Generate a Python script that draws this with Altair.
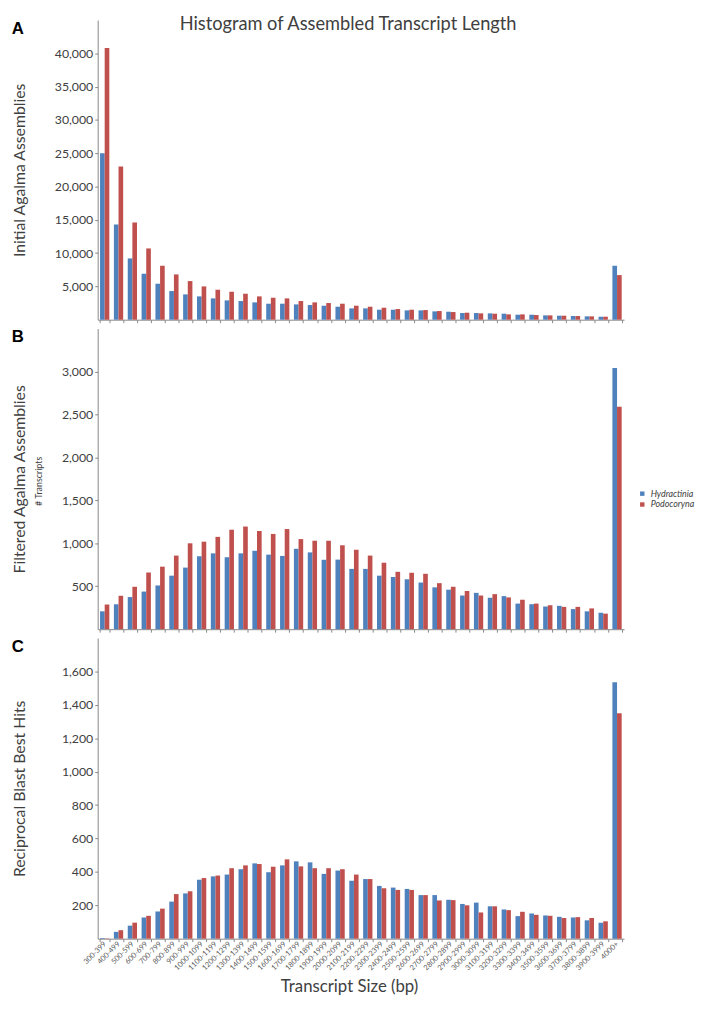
import altair as alt
import pandas as pd

categories = ["300-399", "400-499", "500-599", "600-699", "700-799", "800-899", "900-999",
              "1000-1099", "1100-1199", "1200-1299", "1300-1399", "1400-1499", "1500-1599",
              "1600-1699", "1700-1799", "1800-1899", "1900-1999", "2000-2099", "2100-2199",
              "2200-2299", "2300-2399", "2400-2499", "2500-2599", "2600-2699", "2700-2799",
              "2800-2899", "2900-2999", "3000-3099", "3100-3199", "3200-3299", "3300-3399",
              "3400-3499", "3500-3599", "3600-3699", "3700-3799", "3800-3899", "3900-3999", "4000+"]
series = ["Hydractinia", "Podocoryna"]

initial_hydractinia = [25000, 14300, 9200, 6900, 5400, 4300, 3800, 3500, 3200, 2900, 2800, 2600,
                       2400, 2400, 2300, 2200, 2100, 1950, 1700, 1700, 1500, 1500, 1400, 1400,
                       1250, 1200, 1000, 1000, 950, 900, 750, 750, 650, 600, 550, 500, 450, 8100]
initial_podocoryna = [40800, 23000, 14600, 10700, 8100, 6800, 5800, 5000, 4500, 4200, 3900, 3500,
                      3300, 3200, 2800, 2600, 2500, 2400, 2100, 1950, 1800, 1600, 1500, 1450,
                      1300, 1150, 1050, 950, 900, 800, 800, 700, 650, 600, 550, 500, 450, 6700]

filtered_hydractinia = [208, 290, 374, 438, 509, 623, 717, 849, 883, 838, 883, 913, 868, 853, 936,
                        894, 808, 810, 702, 702, 623, 608, 581, 543, 487, 460, 392, 423, 366, 385,
                        298, 291, 264, 272, 234, 208, 192, 3040]
filtered_podocoryna = [287, 389, 494, 660, 728, 857, 1000, 1019, 1075, 1158, 1195, 1143, 1109, 1166,
                       1049, 1030, 1030, 977, 925, 857, 774, 668, 657, 645, 536, 494, 445, 392, 408,
                       370, 343, 298, 279, 260, 260, 242, 181, 2590]

rbbh_hydractinia = [4, 41, 78, 127, 163, 222, 271, 353, 373, 384, 416, 451, 398, 439, 463, 457, 388,
                    408, 347, 357, 316, 306, 298, 261, 261, 233, 208, 216, 194, 175, 135, 151, 139,
                    131, 127, 110, 96, 1535]
rbbh_podocoryna = [2, 51, 96, 137, 180, 267, 284, 363, 378, 422, 439, 447, 431, 475, 433, 422, 422,
                   416, 384, 357, 302, 292, 292, 261, 229, 231, 200, 157, 194, 171, 161, 143, 137,
                   124, 129, 124, 104, 1350]

ticks_a = [5000, 10000, 15000, 20000, 25000, 30000, 35000, 40000]
ticks_b = [500, 1000, 1500, 2000, 2500, 3000]
ticks_c = [200, 400, 600, 800, 1000, 1200, 1400, 1600]

FONT = "Lato"
BLUE = "#4F81BD"
RED = "#C0504D"
AXIS_GRAY = "#868686"
TEXT = "#404040"
PW = 534


def make_df(h, p):
    rows = []
    for c, a, b in zip(categories, h, p):
        rows.append({"cat": c, "series": series[0], "value": a})
        rows.append({"cat": c, "series": series[1], "value": b})
    return pd.DataFrame(rows)


def panel(df, ymax, yticks, ytitle, letter, height, show_labels, legend, extra_texts=()):
    if show_labels:
        xaxis = alt.Axis(title="Transcript Size (bp)", labels=True, tickBand="extent", tickSize=3,
                         tickColor=AXIS_GRAY, domainColor=AXIS_GRAY, labelAngle=-45,
                         labelAlign="right", labelBaseline="middle", labelFontSize=7.5,
                         labelColor="#595959", labelOverlap=False, labelPadding=1,
                         titleFontSize=17, titleFontWeight="normal", titleColor=TEXT,
                         titleX=255, titleY=54, titleAlign="center", titleBaseline="alphabetic")
    else:
        xaxis = alt.Axis(title=None, labels=False, tickBand="extent", tickSize=3,
                         tickColor=AXIS_GRAY, domainColor=AXIS_GRAY)
    yaxis = alt.Axis(values=yticks, format=",d", grid=False, title=ytitle, titleX=-74,
                     titleY=height / 2, titleAngle=-90, titleAlign="center",
                     titleBaseline="alphabetic", titleFontSize=16, titleFontWeight="normal",
                     titleColor=TEXT, labelFontSize=12.5, labelColor=TEXT, tickSize=3,
                     tickColor=AXIS_GRAY, domainColor=AXIS_GRAY, labelPadding=2)
    bars = alt.Chart(df).mark_bar().encode(
        x=alt.X("cat:N", sort=categories, axis=xaxis,
                scale=alt.Scale(paddingInner=0.33, paddingOuter=0.17)),
        xOffset=alt.XOffset("series:N", sort=series, scale=alt.Scale(paddingInner=0, paddingOuter=0)),
        y=alt.Y("value:Q", scale=alt.Scale(domain=[0, ymax], nice=False), axis=yaxis),
        color=alt.Color("series:N", sort=series,
                        scale=alt.Scale(domain=series, range=[BLUE, RED]),
                        legend=legend),
    )
    letter_mark = alt.Chart(pd.DataFrame({"t": [letter]})).mark_text(
        font="Liberation Sans", fontWeight="bold", fontSize=17, align="center",
        baseline="middle", color="#000000"
    ).encode(text="t:N", x=alt.value(-81), y=alt.value(9))
    layers = [bars, letter_mark]
    for txt, x, y, size, angle in extra_texts:
        layers.append(
            alt.Chart(pd.DataFrame({"t": [txt]})).mark_text(
                font=FONT, fontSize=size, align="center", baseline="middle", color=TEXT,
                angle=angle
            ).encode(text="t:N", x=alt.value(x), y=alt.value(y))
        )
    return alt.layer(*layers).properties(width=PW, height=height)


legend_b = alt.Legend(orient="none", legendX=548, legendY=163, title=None, symbolType="square",
                      symbolSize=20, symbolStrokeWidth=0, labelFontSize=9,
                      labelFontStyle="italic", labelColor=TEXT, rowPadding=1, labelOffset=4)

panel_a = panel(make_df(initial_hydractinia, initial_podocoryna), 45000, ticks_a,
                "Initial Agalma Assemblies", "A", 304, False, None,
                extra_texts=[("Histogram of Assembled Transcript Length", 254, 4, 18.5, 0)])
panel_b = panel(make_df(filtered_hydractinia, filtered_podocoryna), 3500, ticks_b,
                "Filtered Agalma Assemblies", "B", 305, False, legend_b,
                extra_texts=[("# Transcripts", -60, 155, 9, 270)])
panel_c = panel(make_df(rbbh_hydractinia, rbbh_podocoryna), 1800, ticks_c,
                "Reciprocal Blast Best Hits", "C", 305, True, None)

chart = alt.vconcat(panel_a, panel_b, panel_c, spacing=5).resolve_scale(
    color="independent"
).properties(padding={"left": 3, "top": 0, "right": 0, "bottom": 0}).configure(
    font=FONT
).configure_view(stroke=None)

chart.save("out.html", embed_options={"renderer": "svg", "actions": False})
